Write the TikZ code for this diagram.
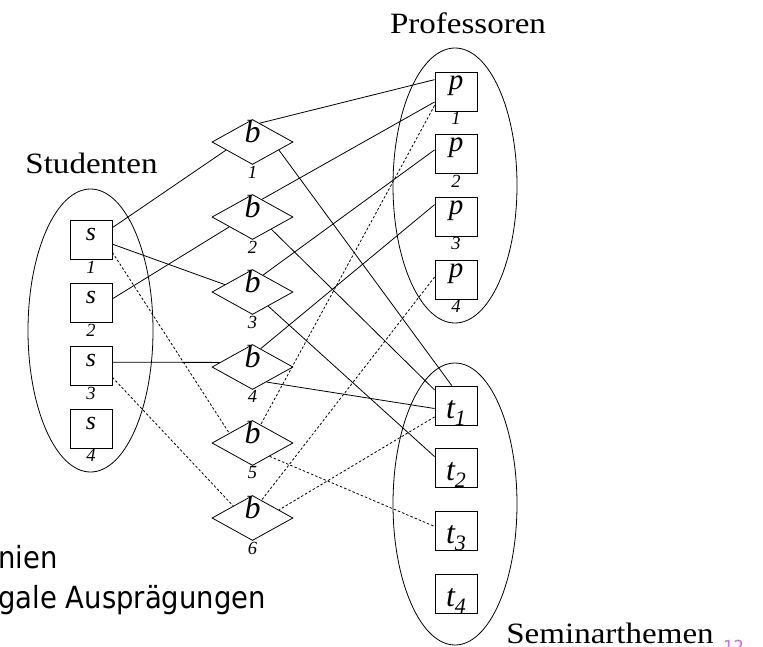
\documentclass[tikz,border=0pt]{standalone}
\usepackage{fontspec}
\setmainfont{Liberation Serif}
\newfontfamily\headfont[FakeStretch=1.12]{Liberation Serif}
\newfontfamily\notefont[FakeStretch=0.9]{DejaVu Sans}
\usetikzlibrary{shapes.geometric}
\definecolor{pagenum}{RGB}{204,102,255}

\begin{document}
\begin{tikzpicture}[x=1pt, y=-1pt, line width=0.8pt,
  every node/.style = {inner sep=0pt},
  box/.style = {draw, rectangle, minimum width=42pt, minimum height=39pt,
    font=\itshape\fontsize{32}{32}\selectfont},
  sbox/.style = {box, text height=10pt, text depth=10pt,
    font=\itshape\fontsize{26}{26}\selectfont},
  pbox/.style = {box, text height=10pt, text depth=15pt,
    font=\itshape\fontsize{29}{29}\selectfont},
  tbox/.style = {box, text height=27pt, text depth=2pt},
  rel/.style = {draw, diamond, minimum width=81pt, minimum height=45pt,
    text height=8pt, text depth=8pt, font=\itshape\fontsize{32}{32}\selectfont},
  num/.style = {font=\itshape\fontsize{18.5}{18.5}\selectfont, yshift=-0.5pt},
  group/.style = {draw, ellipse},
  head/.style = {anchor=base, font=\headfont\fontsize{29.5}{29.5}\selectfont},
  note/.style = {anchor=base west, font=\notefont\fontsize{30.5}{30.5}\selectfont},
  illegal/.style = {dash pattern=on 2.5pt off 2pt}]
  \useasboundingbox (0,0) rectangle (763,646);
  \clip (0,0) rectangle (763,646);

  \node[group, minimum width=125pt, minimum height=283pt] (studs) at (90.5,330.5) {};
  \node[group, minimum width=124pt, minimum height=275pt] (profs) at (455,185.5) {};
  \node[group, minimum width=124pt, minimum height=282pt] (topics) at (455,504) {};

  \node[head] (studlabel) at (91.5,173) {Studenten};
  \node[head] (proflabel) at (468,33) {Professoren};
  \node[head] (topiclabel) at (610,643) {Seminarthemen};
  \node[anchor=north west, text=pagenum,
    font=\notefont\fontsize{18}{18}\selectfont] (pagelabel) at (723,640) {12};
  \node[note] (note1) at (-2,568) {nien};
  \node[note] (note2) at (-2,608) {gale Ausprägungen};

  \foreach \i/\y in {1/240,2/303,3/366,4/429}
    \node[sbox, label={[num]below:\i}] (s\i) at (91,\y) {s};
  \foreach \i/\y in {1/91.5,2/154,3/216.5,4/280}
    \node[pbox, label={[num]below:\i}] (p\i) at (456,\y) {p};
  \foreach \i/\y in {1/405.5,2/468,3/531,4/593.5}
    \node[tbox] (t\i) at (456,\y) {t\raisebox{-7pt}{\fontsize{22}{22}\selectfont\i}};
  \foreach \i/\y in {1/142,2/217,3/292,4/367,5/443,6/518}
    \node[rel, label={[num]below:\i}] (b\i) at (252.5,\y) {b};

  \draw (s1.30) -- (b1.197);
  \draw (s1.-11) -- (b3.165);
  \draw (s2.11) -- (b2.203);
  \draw (s3.10) -- (b4.172);
  \draw (b1.69) -- (p1.151);
  \draw (b2.62) -- (p1.206);
  \draw (b3.58) -- (p2.169);
  \draw (b4.66) -- (p3.151);
  \draw (b1.-17) -- (t1.102);
  \draw (b2.-33) -- (t1.144);
  \draw (b4.-47) -- (t1.188);
  \draw (b3.-42) -- (t2.152);
  \draw[illegal] (s1.-30) -- (b5.157);
  \draw[illegal] (s3.-28) -- (b6.148);
  \draw[illegal] (p1.213) -- (b5.66);
  \draw[illegal] (p4.172) -- (b6.63);
  \draw[illegal] (t1.208) -- (b6.17);
  \draw[illegal] (b5.-38) -- (t3.168);
\end{tikzpicture}
\end{document}
